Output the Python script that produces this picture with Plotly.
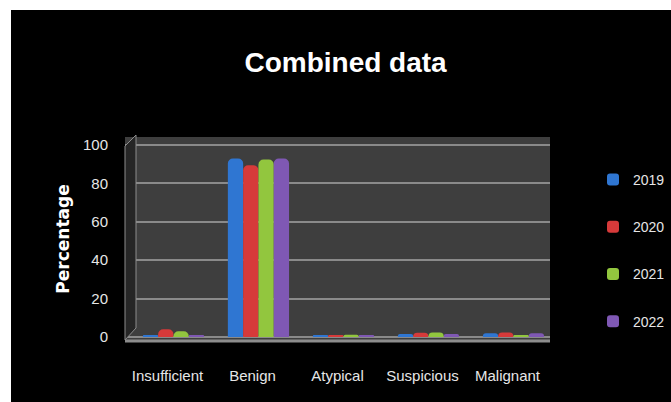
import plotly.graph_objects as go

# Result categories and yearly percentages
categories = ["Insufficient", "Benign", "Atypical", "Suspicious", "Malignant"]
years = ["2019", "2020", "2021", "2022"]
pct_2019 = [1.0, 93.0, 0.8, 1.5, 2.0]
pct_2020 = [4.0, 89.5, 0.8, 2.2, 2.3]
pct_2021 = [3.0, 92.5, 1.2, 2.3, 1.0]
pct_2022 = [1.0, 93.0, 0.8, 1.5, 2.0]
series = [pct_2019, pct_2020, pct_2021, pct_2022]
colors = ["#2f76d2", "#d63a3a", "#92c63e", "#7f58b4"]

W, H = 671, 402
L, R, T, B = 125, 121, 137, 61
pw, ph = W - L - R, H - T - B

# each cylinder sits a little right of its category centre (3-D depth shift)
bar_w = 0.18
first_offset = -0.29

fig = go.Figure()
for i, (yr, vals, col) in enumerate(zip(years, series, colors)):
    fig.add_trace(go.Bar(
        x=categories, y=vals, name=yr, legendgroup=yr,
        width=bar_w, offset=first_offset + i * bar_w,
        marker=dict(color=col, line=dict(width=0), cornerradius=5),
    ))

def px_x(p):
    return (p - L) / pw

def px_y(p):
    return (H - B - p) / ph

shapes = [
    # white strips along the left and top edges
    dict(type="rect", xref="paper", yref="paper", layer="above",
         x0=px_x(-5), x1=px_x(11), y0=px_y(-5), y1=px_y(H + 5),
         fillcolor="white", line=dict(width=0)),
    dict(type="rect", xref="paper", yref="paper", layer="above",
         x0=px_x(-5), x1=px_x(W + 5), y0=px_y(10), y1=px_y(-5),
         fillcolor="white", line=dict(width=0)),
    # darker side wall
    dict(type="path", xref="paper", yref="paper", layer="above",
         path=f"M {px_x(125)},{px_y(340)} L {px_x(125)},{px_y(146)} "
              f"L {px_x(136)},{px_y(135)} L {px_x(136)},{px_y(328)} Z",
         fillcolor="#262626", line=dict(color="#8c8c8c", width=1)),
    # floor slab edge
    dict(type="line", xref="paper", yref="paper", layer="above",
         x0=0, x1=1, y0=0, y1=0, line=dict(color="#8c8c8c", width=3)),
]

fig.update_layout(
    width=W, height=H,
    margin=dict(l=L, r=R, t=T, b=B, pad=0, autoexpand=False),
    paper_bgcolor="black", plot_bgcolor="#3e3e3e",
    barmode="overlay",
    font=dict(family="Liberation Sans Narrow, Liberation Sans, sans-serif",
              color="#e6e6e6", size=15),
    title=dict(text="<b>Combined data</b>", x=0.515, xanchor="center",
               y=1 - 62 / H, yanchor="middle",
               font=dict(size=28, color="white",
                         family="Liberation Sans, sans-serif")),
    xaxis=dict(showgrid=False, zeroline=False, showline=False, ticks="",
               range=[-0.5, 4.5],
               tickfont=dict(size=15, color="#e6e6e6"), ticklabelstandoff=24),
    yaxis=dict(range=[-2.1, 104.2], tickvals=[0, 20, 40, 60, 80, 100],
               showgrid=True, gridcolor="#8a8a8a", gridwidth=2,
               zeroline=False, showline=False, ticks="",
               tickfont=dict(size=15, color="#e6e6e6"), ticklabelstandoff=16,
               title=dict(text="<b>Percentage</b>", standoff=9,
                          font=dict(size=17, color="white",
                                    family="DejaVu Sans, sans-serif"))),
    legend=dict(xref="container", yref="container",
                x=593 / W, xanchor="left", y=1 - 164 / H, yanchor="top",
                font=dict(size=14, color="#e6e6e6"),
                bgcolor="rgba(0,0,0,0)", tracegroupgap=26,
                itemwidth=30),
    shapes=shapes,
)

fig.write_html("out.html")
